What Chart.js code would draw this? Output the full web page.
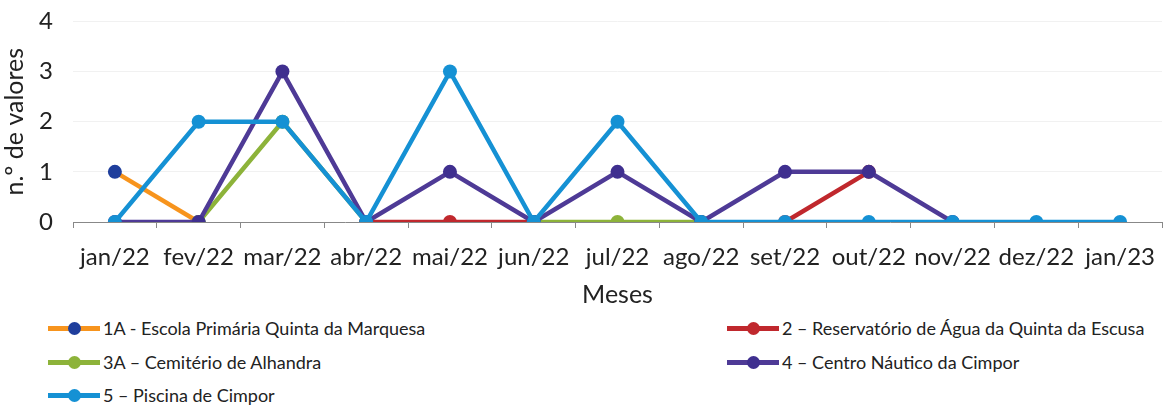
<!DOCTYPE html>
<html>
<head>
<meta charset="utf-8">
<script src="https://cdn.jsdelivr.net/npm/chart.js@4"></script>
<style>
  body { margin: 0; background: #fff; overflow: hidden; }
  #wrap { position: relative; width: 1173px; height: 407px; overflow: hidden; }
  #chart { position: absolute; left: 0; top: -13px; }
  .leg { position: absolute; font-family: Lato, "Noto Sans", sans-serif; font-size: 18px; color: #222; white-space: nowrap; height: 20px; line-height: 20px; }
  .leg .sym { position: absolute; left: 0; top: 8px; width: 52px; height: 5px; }
  .leg .dot { position: absolute; left: 20px; top: -4px; width: 13px; height: 13px; border-radius: 50%; }
  .leg .txt { position: absolute; left: 55px; top: 0; }
</style>
</head>
<body>
<div id="wrap">
  <canvas id="chart" width="1173" height="323"></canvas>
  <div id="legend"></div>
</div>
<script>
const months = ['jan/22', 'fev/22', 'mar/22', 'abr/22', 'mai/22', 'jun/22', 'jul/22', 'ago/22', 'set/22', 'out/22', 'nov/22', 'dez/22', 'jan/23'];
const yTicks = [0, 1, 2, 3, 4];

const names = [
    '1A - Escola Primária Quinta da Marquesa',
    '2 – Reservatório de Água da Quinta da Escusa',
    '3A – Cemitério de Alhandra',
    '4 – Centro Náutico da Cimpor',
    '5 – Piscina de Cimpor'
];
const s1A = [1, 0, null, null, null, null, null, null, null, null, null, null, null];
const s2 = [null, null, null, 0, 0, 0, null, null, 0, 1, null, null, null];
const s3A = [null, 0, 2, 0, null, 0, 0, 0, null, null, null, null, null];
const s4 = [0, 0, 3, 0, 1, 0, 1, 0, 1, 1, 0, null, null];
const s5 = [0, 2, 2, 0, 3, 0, 2, 0, 0, 0, 0, 0, 0];

const lineColors = ['#F7941D', '#C0282D', '#8DB33A', '#4E3A96', '#1591D4'];
const dotColors = ['#1F3E9C', '#C0282D', '#8DB33A', '#3F2F8F', '#1591D4'];
const series = [s1A, s2, s3A, s4, s5];

// first dataset is drawn on top, so give the last ones a lower order
const datasets = series.map((vals, i) => ({
    label: names[i],
    data: vals,
    borderColor: lineColors[i],
    backgroundColor: dotColors[i],
    pointBackgroundColor: dotColors[i],
    pointBorderColor: dotColors[i],
    borderWidth: 4.5,
    pointRadius: 7,
    pointBorderWidth: 0,
    tension: 0,
    order: 5 - i
}));

const tickFont = { family: 'Lato', size: 24 };
const titleFont = { family: 'Lato', size: 25 };

const ctx = document.getElementById('chart').getContext('2d');
const chart = new Chart(ctx, {
    type: 'line',
    data: { labels: months, datasets: datasets },
    options: {
        responsive: false,
        animation: false,
        layout: { padding: { top: 8, right: 11, bottom: 0, left: 0 } },
        plugins: { legend: { display: false }, tooltip: { enabled: false } },
        scales: {
            x: {
                offset: true,
                grid: { drawOnChartArea: false, drawTicks: true, tickLength: 6, color: '#888', offset: true },
                border: { display: true, color: '#888', width: 1 },
                ticks: { color: '#222', font: tickFont, padding: 15, maxRotation: 0, autoSkip: false },
                title: { display: true, text: 'Meses', color: '#222', font: titleFont, padding: { top: 2, bottom: 0 } },
                afterFit: function(scale) { scale.height = 88; }
            },
            y: {
                min: 0,
                max: 4,
                afterBuildTicks: function(scale) { scale.ticks = yTicks.map(v => ({ value: v })); },
                grid: { color: '#f1f1f1', drawTicks: false, lineWidth: 1 },
                border: { display: false },
                ticks: { color: '#222', font: tickFont, padding: 20 },
                title: { display: true, text: 'n.º de valores', color: '#222', font: titleFont, padding: 0 },
                afterFit: function(scale) { scale.width = 73; }
            }
        }
    }
});

// legend in two columns, as in the source
const legendPos = [[48, 318], [727, 318], [48, 352], [727, 352], [48, 385]];
const legend = document.getElementById('legend');
names.forEach((name, i) => {
    const item = document.createElement('div');
    item.className = 'leg';
    item.style.left = legendPos[i][0] + 'px';
    item.style.top = legendPos[i][1] + 'px';
    item.innerHTML = '<span class="sym" style="background:' + lineColors[i] + '"><span class="dot" style="background:' + dotColors[i] + '"></span></span><span class="txt"></span>';
    item.querySelector('.txt').textContent = name;
    legend.appendChild(item);
});
</script>
</body>
</html>
